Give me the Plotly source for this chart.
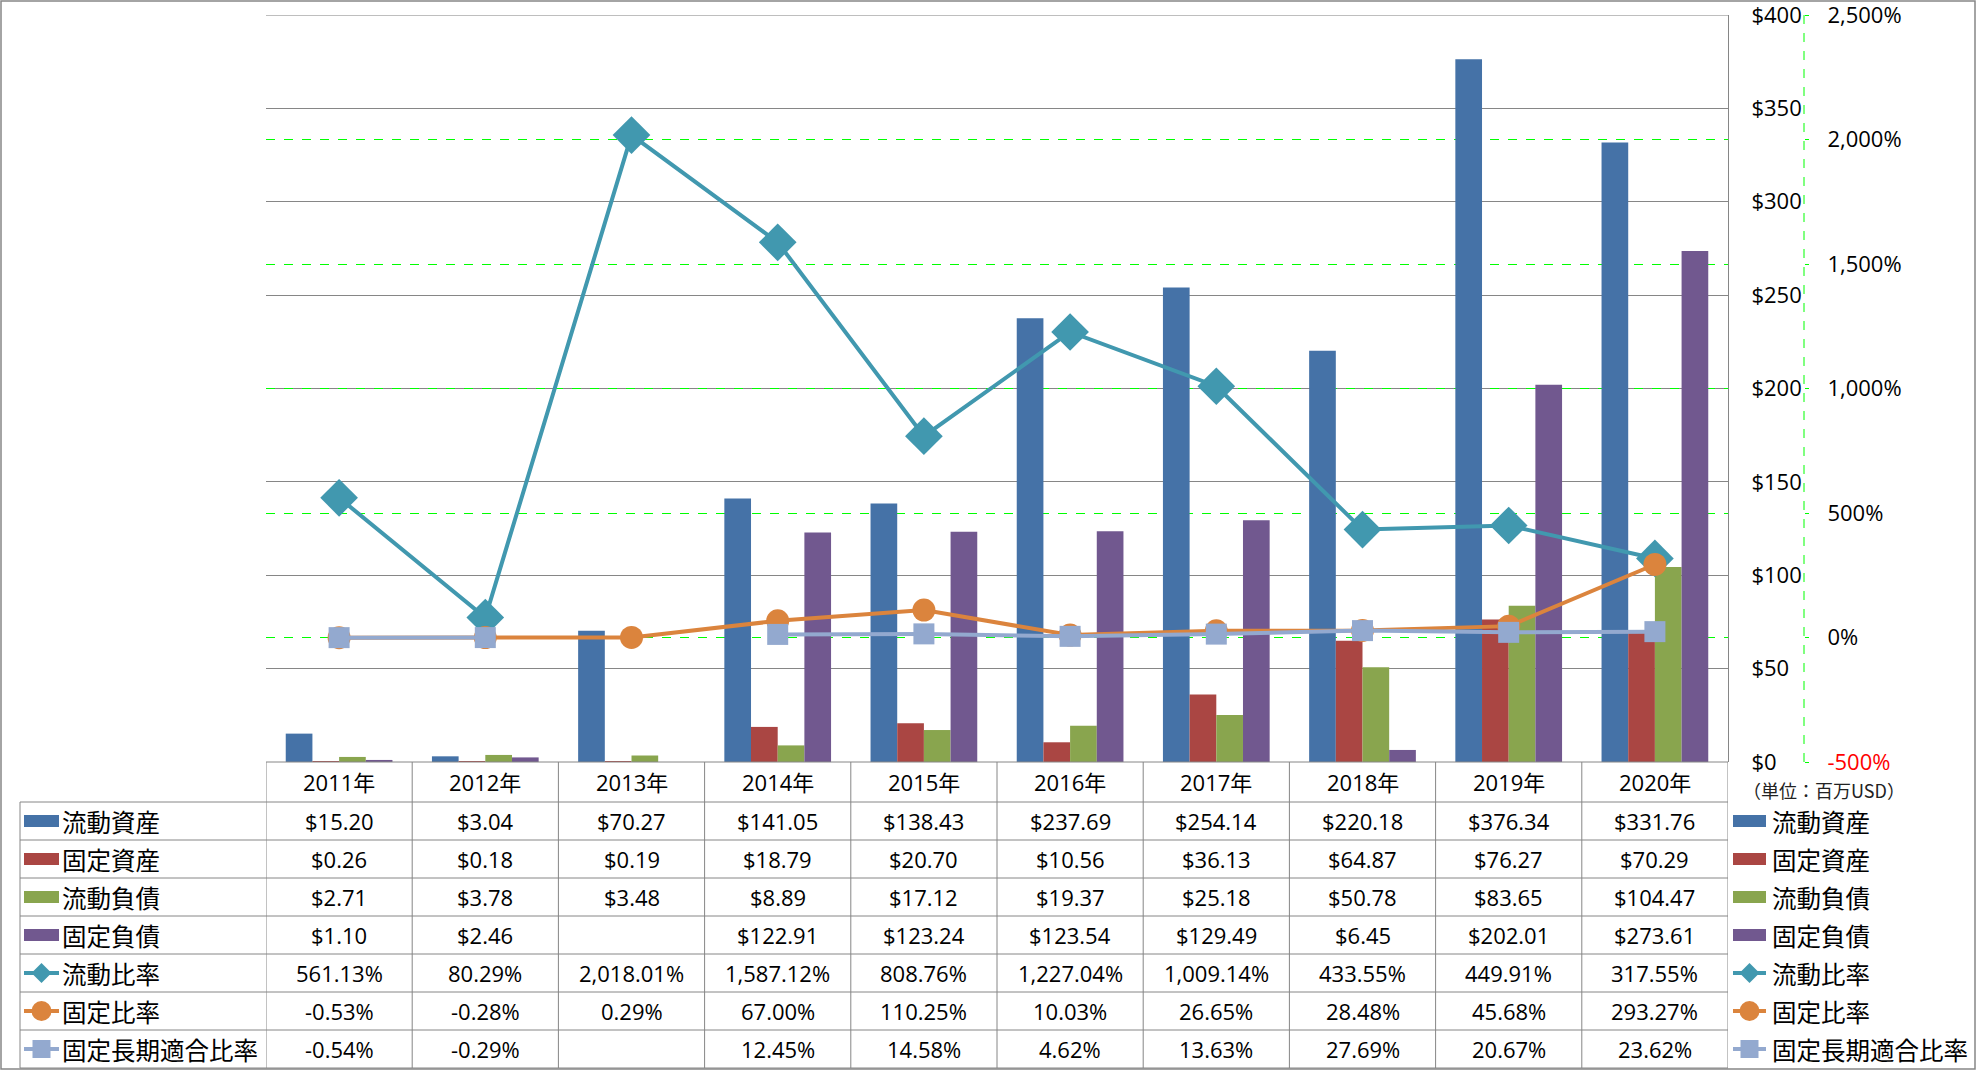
import plotly.graph_objects as go

W, H = 1977, 1071

years = ["2011年", "2012年", "2013年", "2014年", "2015年", "2016年", "2017年", "2018年", "2019年", "2020年"]
current_assets = [15.20, 3.04, 70.27, 141.05, 138.43, 237.69, 254.14, 220.18, 376.34, 331.76]
fixed_assets = [0.26, 0.18, 0.19, 18.79, 20.70, 10.56, 36.13, 64.87, 76.27, 70.29]
current_liab = [2.71, 3.78, 3.48, 8.89, 17.12, 19.37, 25.18, 50.78, 83.65, 104.47]
fixed_liab = [1.10, 2.46, None, 122.91, 123.24, 123.54, 129.49, 6.45, 202.01, 273.61]
current_ratio = [561.13, 80.29, 2018.01, 1587.12, 808.76, 1227.04, 1009.14, 433.55, 449.91, 317.55]
fixed_ratio = [-0.53, -0.28, 0.29, 67.00, 110.25, 10.03, 26.65, 28.48, 45.68, 293.27]
fixed_lt_ratio = [-0.54, -0.29, None, 12.45, 14.58, 4.62, 13.63, 27.69, 20.67, 23.62]

names = ["流動資産", "固定資産", "流動負債", "固定負債", "流動比率", "固定比率", "固定長期適合比率"]
bar_series = [current_assets, fixed_assets, current_liab, fixed_liab]
line_series = [current_ratio, fixed_ratio, fixed_lt_ratio]
colors = ["#4572A7", "#AA4643", "#89A54E", "#71588F", "#4198AF", "#DB843D", "#93A9CF"]
symbols = ["diamond", "circle", "square"]

y1_ticks = [0, 50, 100, 150, 200, 250, 300, 350, 400]
y2_ticks = [-500, 0, 500, 1000, 1500, 2000, 2500]


def X(px):
    return px / W


def Y(py):
    return 1 - py / H


PL, PR, PT, PB = 266, 1728, 15, 762
GRID = "#868686"
FONT = "'Open Sans', 'Noto Sans CJK JP', sans-serif"
CJK = "'Noto Sans CJK JP', sans-serif"

fig = go.Figure()
for name, vals, col in zip(names[:4], bar_series, colors[:4]):
    fig.add_trace(go.Bar(x=years, y=vals, name=name, marker=dict(color=col, line=dict(width=0)),
                         xaxis="x", yaxis="y"))
for name, vals, col, sym, sz in zip(names[4:], line_series, colors[4:], symbols, [29, 23, 21]):
    fig.add_trace(go.Scatter(x=years, y=vals, name=name, mode="lines+markers",
                             line=dict(color=col, width=4), connectgaps=False,
                             marker=dict(symbol=sym, size=sz, color=col, line=dict(width=0)),
                             xaxis="x", yaxis="y2"))


def fmt_money(v):
    return "" if v is None else f"${v:,.2f}"


def fmt_pct(v):
    return "" if v is None else f"{v:,.2f}%"


row_centers = [821, 859, 897, 935, 973, 1011, 1049]
row_lines = [802, 840, 878, 916, 954, 992, 1030, 1068]

ann = []
shapes = []
for yr in years:
    ann.append(dict(x=yr, xref="x", y=Y(782), yref="paper", text=yr, showarrow=False,
                    xanchor="center", yanchor="middle", font=dict(size=22, family=FONT, color="#000")))
all_series = bar_series + line_series
for ri, (vals, yc) in enumerate(zip(all_series, row_centers)):
    f = fmt_money if ri < 4 else fmt_pct
    for yr, v in zip(years, vals):
        t = f(v)
        if t:
            ann.append(dict(x=yr, xref="x", y=Y(yc), yref="paper", text=t, showarrow=False,
                            xanchor="center", yanchor="middle",
                            font=dict(size=22, family=FONT, color="#000")))
    for tx in (60, 1770):
        ann.append(dict(x=X(tx), xref="paper", y=Y(yc), yref="paper", text=names[ri], showarrow=False,
                        xanchor="left", yanchor="middle", font=dict(size=24.5, family=CJK, color="#000")))
    for kx0, kx1 in ((24, 59), (1733, 1766)):
        col = colors[ri]
        if ri < 4:
            shapes.append(dict(type="rect", xref="paper", yref="paper", x0=X(kx0), x1=X(kx1),
                               y0=Y(yc + 6), y1=Y(yc - 6), fillcolor=col, line=dict(width=0)))
        else:
            cx = (kx0 + kx1) / 2
            shapes.append(dict(type="line", xref="paper", yref="paper", x0=X(kx0), x1=X(kx1),
                               y0=Y(yc), y1=Y(yc), line=dict(color=col, width=4)))
            sym = symbols[ri - 4]
            if sym == "diamond":
                r = 10
                path = (f"M {X(cx - r)} {Y(yc)} L {X(cx)} {Y(yc - r)} L {X(cx + r)} {Y(yc)} "
                        f"L {X(cx)} {Y(yc + r)} Z")
                shapes.append(dict(type="path", xref="paper", yref="paper", path=path,
                                   fillcolor=col, line=dict(width=0)))
            elif sym == "circle":
                r = 10
                shapes.append(dict(type="circle", xref="paper", yref="paper", x0=X(cx - r), x1=X(cx + r),
                                   y0=Y(yc + r), y1=Y(yc - r), fillcolor=col, line=dict(width=0)))
            else:
                r = 9
                shapes.append(dict(type="rect", xref="paper", yref="paper", x0=X(cx - r), x1=X(cx + r),
                                   y0=Y(yc + r), y1=Y(yc - r), fillcolor=col, line=dict(width=0)))

line_style = dict(color=GRID, width=1)
shapes.append(dict(type="line", xref="paper", yref="paper", x0=X(PL), x1=X(PR), y0=Y(PB), y1=Y(PB), line=line_style))
shapes.append(dict(type="line", xref="paper", yref="y", x0=X(PL), x1=X(PR), y0=400, y1=400, line=line_style))
for ly in row_lines:
    shapes.append(dict(type="line", xref="paper", yref="paper", x0=X(20), x1=X(PR), y0=Y(ly), y1=Y(ly), line=line_style))
shapes.append(dict(type="line", xref="paper", yref="paper", x0=X(20), x1=X(20), y0=Y(802), y1=Y(1068), line=line_style))
for k in range(11):
    shapes.append(dict(type="line", xref="x", yref="paper", x0=k - 0.5, x1=k - 0.5, y0=Y(PB), y1=Y(1068), line=line_style))
shapes.append(dict(type="line", xref="paper", yref="y2", x0=X(1804), x1=X(1804), y0=-500, y1=2500,
                   line=dict(color="#00FF00", width=1, dash="dash")))
shapes.append(dict(type="rect", xref="paper", yref="paper", x0=X(1), x1=X(1975), y0=Y(1069), y1=Y(1),
                   line=dict(color=GRID, width=1.5), fillcolor="rgba(0,0,0,0)"))

ann.append(dict(x=X(1741), xref="paper", y=Y(790), yref="paper", text="（単位：百万USD）", showarrow=False,
                xanchor="left", yanchor="middle", font=dict(size=18, family=CJK, color="#222")))

y1_text = [f"${v}" for v in y1_ticks]
y2_text = [f"{v:,}%" for v in y2_ticks]
y2_text[0] = '<span style="color:#FF0000">' + y2_text[0] + "</span>"

fig.update_layout(
    width=W, height=H, autosize=False,
    margin=dict(l=0, r=0, t=0, b=0),
    paper_bgcolor="white", plot_bgcolor="white",
    showlegend=False,
    barmode="group", bargap=0.27, bargroupgap=0,
    font=dict(family=FONT, size=22, color="#000"),
    xaxis=dict(domain=[X(PL), X(PR)], range=[-0.5, 9.5], showticklabels=False, showgrid=False,
               zeroline=False, showline=False, ticks="", fixedrange=True),
    yaxis=dict(domain=[Y(PB), Y(PT)], range=[0, 400.02], tickvals=y1_ticks, ticktext=y1_text,
               side="right", showgrid=True, gridcolor=GRID, gridwidth=1, zeroline=False,
               showline=True, linecolor=GRID, linewidth=1, ticks="", ticklabelstandoff=18,
               ticklabeloverflow="allow",
               tickfont=dict(size=22, family=FONT, color="#000"), automargin=False),
    yaxis2=dict(overlaying="y", anchor="free", position=X(1804), side="right", range=[-500, 2500.15],
                tickvals=y2_ticks, ticktext=y2_text, showgrid=True, gridcolor="#00FF00",
                griddash="dash", gridwidth=1, zeroline=False, showline=False, ticks="outside",
                ticklen=4, tickcolor="#00FF00", ticklabelstandoff=14,
                ticklabeloverflow="allow",
                tickfont=dict(size=22, family=FONT, color="#000"), automargin=False),
    annotations=ann,
    shapes=shapes,
)

fig.write_html("out.html", config={"displayModeBar": False},
               post_script="document.body.style.margin='0';document.body.style.overflow='hidden';")
